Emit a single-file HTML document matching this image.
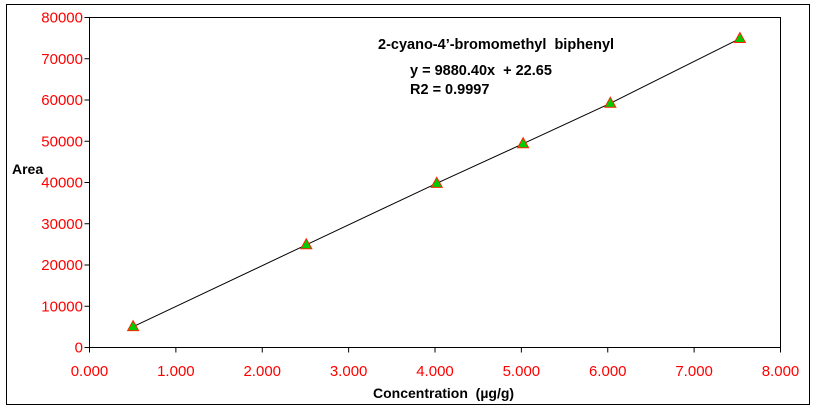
<!DOCTYPE html>
<html><head><meta charset="utf-8"><style>
body{margin:0;background:#fff;}
svg{display:block;font-family:"Liberation Sans",Arial,sans-serif;}
text{white-space:pre;}
</style></head><body>
<svg id="chart" width="816" height="409">
<rect x="6.5" y="4.5" width="803" height="400" fill="#fff" stroke="#000" stroke-width="1"/>
<rect x="89.5" y="17.5" width="691" height="330" fill="#fff" stroke="#000" stroke-width="1"/>
<g id="axes"></g>
<g id="series"></g>
<text x="378" y="49" font-size="14.5" font-weight="bold">2-cyano-4’-bromomethyl  biphenyl</text>
<text x="410" y="75" font-size="14.5" font-weight="bold">y = 9880.40x  + 22.65</text>
<text x="410" y="94" font-size="14.5" font-weight="bold">R2 = 0.9997</text>
<text x="12" y="174" font-size="14" font-weight="bold">Area</text>
<text x="373" y="398" font-size="14" font-weight="bold">Concentration  (µg/g)</text>
</svg>
<script>
const concentrations=[0.505,2.51,4.02,5.02,6.03,7.53];
const areas=[5050,24900,39800,49400,59200,74900];
const xTicks=[0,1,2,3,4,5,6,7,8];
const yTicks=[0,10000,20000,30000,40000,50000,60000,70000,80000];
const NS="http://www.w3.org/2000/svg";
const X0=89.5,X1=780.5,Y0=347.5,Y1=17.5;
const xs=v=>X0+(v-0)/(8-0)*(X1-X0);
const ys=v=>Y0-(v-0)/(80000-0)*(Y0-Y1);
const axes=document.getElementById('axes'),ser=document.getElementById('series');
function mk(t,a,p){const e=document.createElementNS(NS,t);for(const k in a)e.setAttribute(k,a[k]);p.appendChild(e);return e;}
xTicks.forEach(v=>{
 const l=mk('line',{x1:xs(v),x2:xs(v),y1:Y0,y2:Y0+5,stroke:'#000'},axes);
 
 
 const t=mk('text',{x:xs(v),y:376,'font-size':15,fill:'#ff0000','text-anchor':'middle'},axes);
 t.textContent=v.toFixed(3);
 
 
});
yTicks.forEach(v=>{
 const l=mk('line',{x1:X0-5,x2:X0,y1:ys(v),y2:ys(v),stroke:'#000'},axes);
 
 
 const t=mk('text',{x:83,y:ys(v)+5,'font-size':15,fill:'#ff0000','text-anchor':'end'},axes);
 t.textContent=String(v);
 
 
});
const pts=concentrations.map((c,i)=>xs(c)+','+ys(areas[i])).join(' ');
const pl=mk('polyline',{points:pts,fill:'none',stroke:'#000','stroke-width':1},ser);


concentrations.forEach((c,i)=>{
 const x=xs(c),y=ys(areas[i]);
 const m=mk('polygon',{points:`${x},${y-6} ${x-5.5},${y+4} ${x+5.5},${y+4}`,fill:'#00cc00',stroke:'#ff2200','stroke-width':1},ser);
 
 
});
</script>
</body></html>
